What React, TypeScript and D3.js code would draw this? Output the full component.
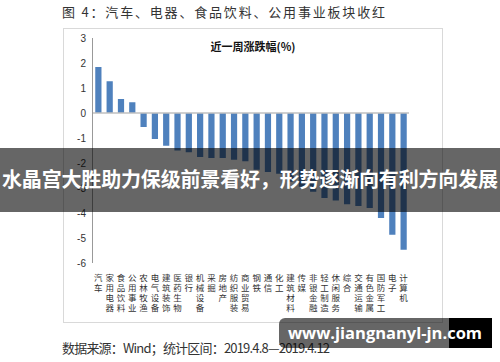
import * as d3 from "d3";

// 近一周涨跌幅(%)，按行业
const categories = [
  "汽车", "家用电器", "食品饮料", "公用事业", "农林牧渔", "电气设备", "建筑装饰",
  "医药生物", "银行", "机械设备", "采掘", "房地产", "纺织服装", "商业贸易",
  "钢铁", "通信", "化工", "建筑材料", "传媒", "非银金融", "轻工制造",
  "休闲服务", "综合", "交通运输", "有色金属", "国防军工", "电子", "计算机",
];
const values = [
  1.84, 1.27, 0.56, 0.43, -0.56, -1.04, -1.31, -1.5, -1.57, -1.76, -1.8, -1.8,
  -1.87, -1.93, -2.27, -2.36, -2.43, -2.75, -2.95, -3.15, -3.4, -3.5, -3.65,
  -3.72, -3.8, -4.2, -4.87, -5.47,
];
const yTicks = [3, 2, 1, 0, -1, -2, -3, -4, -5, -6];

const figTitle = "图 4：汽车、电器、食品饮料、公用事业板块收红";
const chartTitle = "近一周涨跌幅(%)";
const source = "数据来源：Wind；统计区间：2019.4.8—2019.4.12";
const banner = "水晶宫大胜助力保级前景看好，形势逐渐向有利方向发展";
const watermark = "www.jiangnanyl-jn.com";

const W = 500;
const H = 362;
const cjk = "'Noto Sans CJK SC', 'Noto Sans', sans-serif";

export default function App() {
  const x = d3
    .scaleBand<string>()
    .domain(categories)
    .range([93, 409])
    .paddingInner(0.45)
    .paddingOuter(0.2);
  const y = d3.scaleLinear().domain([-6, 3]).range([263, 38]);

  return (
    <svg
      width={W}
      height={H}
      style={{ position: "absolute", left: 0, top: 0, background: "#fff" }}
    >
      <text x={62} y={17} fontFamily={cjk} fontSize={13} fill="#333" textLength={323}>
        {figTitle}
      </text>

      {/* chart frame */}
      <rect x={63.5} y={28.5} width={379} height={294} fill="#fff" stroke="#d9d9d9" />

      <text
        x={253}
        y={51}
        textAnchor="middle"
        fontFamily={cjk}
        fontSize={11}
        fontWeight="bold"
        fill="#111"
      >
        {chartTitle}
      </text>

      {/* y axis */}
      <line x1={92.5} x2={92.5} y1={y(3)} y2={y(-6)} stroke="#999" />
      {yTicks.map((t) => (
        <text
          key={t}
          x={86}
          y={y(t)}
          dy="0.35em"
          textAnchor="end"
          fontFamily="'Liberation Sans', Arial, sans-serif"
          fontSize={10}
          fill="#333"
        >
          {t}
        </text>
      ))}

      {/* bars */}
      {categories.map((c, i) => {
        const v = values[i];
        return (
          <rect
            key={c}
            x={x(c)}
            width={x.bandwidth()}
            y={y(Math.max(0, v))}
            height={Math.abs(y(v) - y(0))}
            fill="#4f81bd"
          />
        );
      })}
      <line x1={93} x2={409} y1={y(0)} y2={y(0)} stroke="#c0c0c0" strokeWidth={1.5} />

      {/* vertical category labels, one character per line */}
      {categories.map((c) => (
        <g key={c}>
          {c.split("").map((ch, j) => (
            <text
              key={j}
              x={(x(c) ?? 0) + x.bandwidth() / 2}
              y={281 + j * 10}
              textAnchor="middle"
              fontFamily={cjk}
              fontSize={8.5}
              fill="#333"
            >
              {ch}
            </text>
          ))}
        </g>
      ))}

      <text x={62} y={353} fontFamily={cjk} fontSize={13} fill="#333" textLength={268}>
        {source}
      </text>

      {/* overlay banner */}
      <rect x={0} y={148} width={W} height={64} fill="rgba(0,0,0,0.6)" />
      <text
        x={W / 2}
        y={187}
        textAnchor="middle"
        fontFamily={cjk}
        fontSize={20}
        fontWeight="bold"
        fill="#fff"
        textLength={496}
      >
        {banner}
      </text>

      {/* watermark */}
      <rect x={449} y={318} width={43} height={30} fill="#000" />
      <rect x={279} y={318} width={213} height={30} rx={6} fill="rgba(0,0,0,0.6)" />
      <text
        x={385}
        y={339}
        textAnchor="middle"
        fontFamily="'Open Sans', 'Noto Sans', sans-serif"
        fontSize={16.5}
        fontWeight="bold"
        fill="#fff"
      >
        {watermark}
      </text>
    </svg>
  );
}
